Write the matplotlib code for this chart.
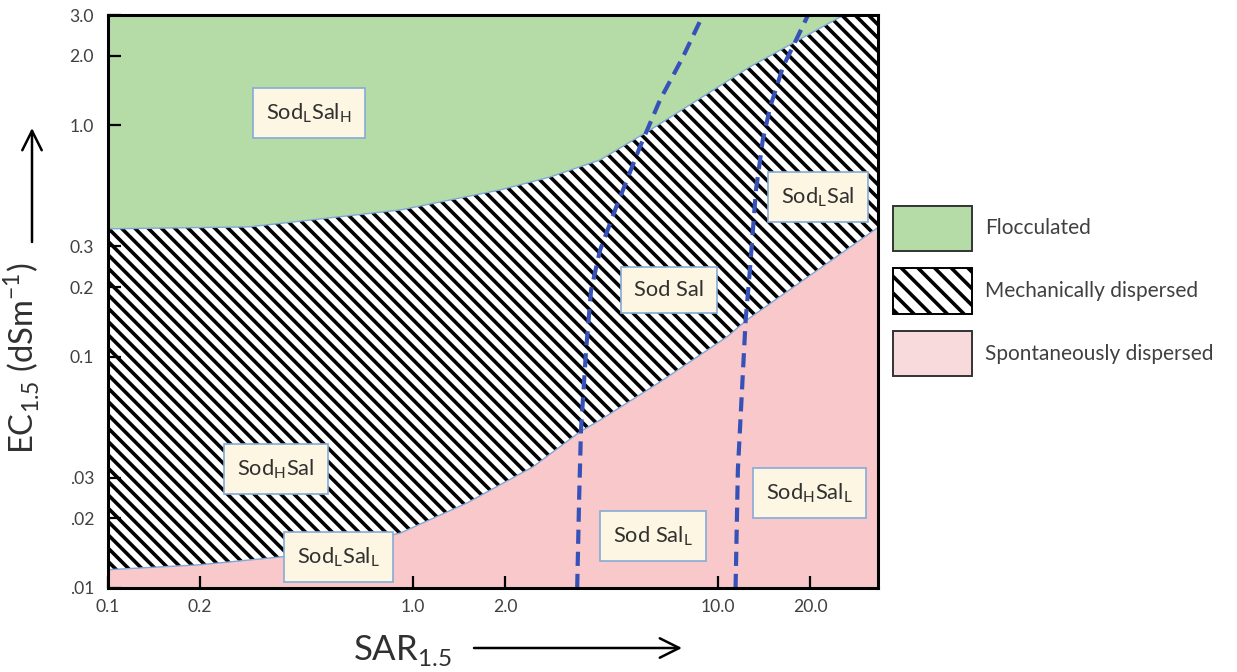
import matplotlib
matplotlib.use("Agg")
import matplotlib.pyplot as plt
from matplotlib.patches import Patch
from matplotlib.ticker import NullLocator, FixedLocator, FixedFormatter

plt.rcParams["font.family"] = ["Lato", "DejaVu Sans"]
plt.rcParams["mathtext.fontset"] = "custom"
plt.rcParams["mathtext.rm"] = "Lato"
plt.rcParams["hatch.linewidth"] = 1.3

# SAR (x) and EC (y) ranges of the diagram
x_lim = (0.1, 33.4)
y_lim = (0.01, 3.0)

# boundary flocculated / mechanically dispersed
upper_x = [0.1, 0.29, 0.91, 1.93, 2.81, 4.10, 5.98, 12.7, 25.1, 33.4]
upper_y = [0.357, 0.364, 0.431, 0.526, 0.598, 0.709, 0.955, 1.79, 2.94, 3.62]

# boundary mechanically / spontaneously dispersed
lower_x = [0.1, 0.20, 0.43, 0.91, 1.50, 2.47, 3.52, 4.10, 6.44, 10.7, 12.4, 33.4]
lower_y = [0.0120, 0.0126, 0.0139, 0.0173, 0.0233, 0.0334, 0.0473, 0.0532, 0.0777, 0.122, 0.144, 0.362]

# dashed sodicity divisions
dash1_x = [3.45, 3.50, 3.55, 3.69, 3.83, 4.10, 4.66, 5.54, 6.45, 7.67, 8.85]
dash1_y = [0.01, 0.024, 0.0482, 0.107, 0.194, 0.289, 0.453, 0.807, 1.29, 1.98, 2.94]
dash2_x = [11.4, 11.6, 12.0, 12.3, 12.7, 13.3, 14.0, 14.8, 16.3, 18.0, 19.7]
dash2_y = [0.01, 0.0324, 0.077, 0.144, 0.237, 0.526, 0.865, 1.20, 1.79, 2.34, 3.0]

# class labels
class_labels = [
    r"Sod$_{\mathregular{L}}$Sal$_{\mathregular{H}}$",
    r"Sod$_{\mathregular{L}}$Sal",
    "Sod Sal",
    r"Sod$_{\mathregular{H}}$Sal",
    r"Sod$_{\mathregular{L}}$Sal$_{\mathregular{L}}$",
    r"Sod Sal$_{\mathregular{L}}$",
    r"Sod$_{\mathregular{H}}$Sal$_{\mathregular{L}}$",
]
class_x = [0.456, 21.2, 6.90, 0.355, 0.571, 6.11, 19.9]
class_y = [1.13, 0.490, 0.194, 0.0327, 0.0136, 0.0168, 0.0257]

x_ticks = [0.1, 0.2, 1.0, 2.0, 10.0, 20.0]
x_ticklabels = ["0.1", "0.2", "1.0", "2.0", "10.0", "20.0"]
y_ticks = [0.01, 0.02, 0.03, 0.1, 0.2, 0.3, 1.0, 2.0, 3.0]
y_ticklabels = [".01", ".02", ".03", "0.1", "0.2", "0.3", "1.0", "2.0", "3.0"]

legend_labels = ["Flocculated", "Mechanically dispersed", "Spontaneously dispersed"]

GREEN = "#b5dba7"
PINK = "#f8c8cb"
PINK_LIGHT = "#f8dadd"
BLUE_LINE = "#7ea8d8"
DASH = "#3651b8"
TXT = "#404040"

W, H = 1237, 672


def fx(px):
    return px / W


def fy(py):
    return 1 - py / H


fig = plt.figure(figsize=(W / 200, H / 200), dpi=200)
ax = fig.add_axes([fx(108), fy(588), fx(878) - fx(108), fy(15) - fy(588)])
ax.set_xscale("log")
ax.set_yscale("log")
ax.set_xlim(*x_lim)
ax.set_ylim(*y_lim)

# hatched background = mechanically dispersed, then cover above / below
ax.axhspan(y_lim[0], y_lim[1], facecolor="white", edgecolor="black",
           hatch="\\" * 5, linewidth=0, zorder=0)
ax.fill_between(upper_x, upper_y, y_lim[1], facecolor=GREEN, linewidth=0, zorder=1)
ax.fill_between(lower_x, y_lim[0], lower_y, facecolor=PINK, linewidth=0, zorder=1)
ax.plot(upper_x, upper_y, color=BLUE_LINE, lw=0.5, zorder=2)
ax.plot(lower_x, lower_y, color=BLUE_LINE, lw=0.5, zorder=2)

for dx, dy in [(dash1_x, dash1_y), (dash2_x, dash2_y)]:
    ax.plot(dx, dy, color=DASH, lw=1.5, dashes=(3.4, 1.9), zorder=3,
            dash_capstyle="butt")

for lab, lx, ly in zip(class_labels, class_x, class_y):
    ax.text(lx, ly, lab, ha="center", va="center", fontsize=7.9, color="#303030",
            zorder=5,
            bbox=dict(boxstyle="square,pad=0.6", facecolor="#fdf6e3",
                      edgecolor="#86abd6", linewidth=0.6))

ax.xaxis.set_major_locator(FixedLocator(x_ticks))
ax.xaxis.set_major_formatter(FixedFormatter(x_ticklabels))
ax.yaxis.set_major_locator(FixedLocator(y_ticks))
ax.yaxis.set_major_formatter(FixedFormatter(y_ticklabels))
ax.xaxis.set_minor_locator(NullLocator())
ax.yaxis.set_minor_locator(NullLocator())
ax.tick_params(which="major", direction="in", length=4.5, width=0.8,
               labelsize=6.3, labelcolor=TXT, zorder=6)
ax.tick_params(axis="x", pad=4)
ax.tick_params(axis="y", pad=5)
for s in ax.spines.values():
    s.set_linewidth(1.1)
    s.set_zorder(6)

# axis titles with arrows
fig.text(fx(22), fy(358), r"EC$_{\mathregular{1.5}}$ (dSm$^{\mathregular{-1}}$)",
         rotation=90, ha="center", va="center", fontsize=11.8, color="#303030")
fig.text(fx(402), fy(651), r"SAR$_{\mathregular{1.5}}$", ha="center", va="center",
         fontsize=12.5, color="#303030")
arrow_kw = dict(arrowstyle="->,head_length=0.5,head_width=0.25", lw=0.9,
                color="black", mutation_scale=14, shrinkA=0, shrinkB=0)
ax.annotate("", xy=(fx(32), fy(128)), xytext=(fx(32), fy(242)),
            xycoords="figure fraction", textcoords="figure fraction",
            arrowprops=arrow_kw, annotation_clip=False)
ax.annotate("", xy=(fx(682), fy(648)), xytext=(fx(474), fy(648)),
            xycoords="figure fraction", textcoords="figure fraction",
            arrowprops=arrow_kw, annotation_clip=False)

handles = [
    Patch(facecolor=GREEN, edgecolor="#333333", linewidth=0.7),
    Patch(facecolor="white", edgecolor="black", hatch="\\" * 4, linewidth=0.7),
    Patch(facecolor=PINK_LIGHT, edgecolor="#333333", linewidth=0.7),
]
leg = fig.legend(handles, legend_labels, loc="center left",
                 bbox_to_anchor=(fx(893), fy(291)), frameon=False, fontsize=7.5,
                 handlelength=3.8, handleheight=2.95, handletextpad=0.6,
                 labelspacing=0.85, borderpad=0, borderaxespad=0)
for t in leg.get_texts():
    t.set_color(TXT)

fig.savefig("out.png", dpi=200)
